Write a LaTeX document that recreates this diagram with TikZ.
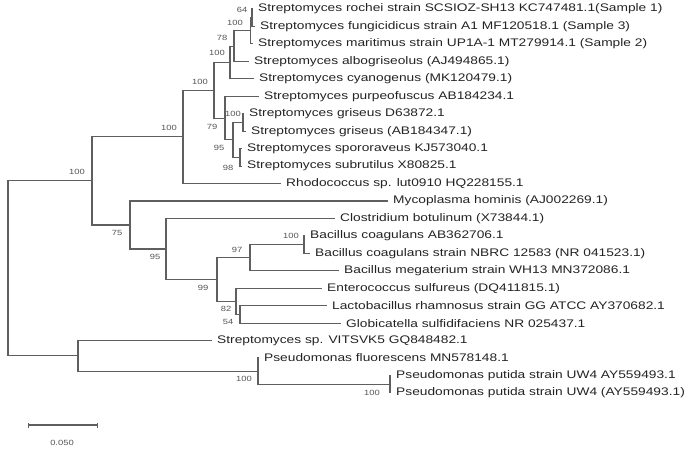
\documentclass[tikz,border=0pt]{standalone}
\usepackage{fontspec}
\usepackage{tikz}
\usetikzlibrary{arrows.meta}
\newfontfamily\treefont[FakeStretch=1.25]{Liberation Sans}
\definecolor{trLine}{RGB}{95,95,95}
\definecolor{trText}{RGB}{35,35,35}
\definecolor{trBoot}{RGB}{85,85,85}

\begin{document}
\begin{tikzpicture}[x=1pt, y=-1pt,
  branch/.style={draw=trLine, line width=1.1pt},
  leaf/.style={anchor=west, inner xsep=5pt, inner ysep=0pt, text=trText, font=\treefont\fontsize{11}{13}\selectfont},
  boot/.style={inner sep=0pt, text=trBoot, font=\treefont\fontsize{7.5}{9}\selectfont}]
  \useasboundingbox (0,0) rectangle (696,456);

  \coordinate (root) at (8,268.4);
  \coordinate (n92) at (92,180.9);
  \coordinate (ns) at (183,136.9);
  \coordinate (s) at (214,90.3);
  \coordinate (s1) at (230,62.5);
  \coordinate (s1a) at (234,46.1);
  \coordinate (s1b) at (250.5,30.8);
  \coordinate (s1c) at (252,17.8);
  \coordinate (s2) at (225,118.1);
  \coordinate (s3) at (233,139.9);
  \coordinate (g) at (243,122.45);
  \coordinate (p) at (240,157.35);
  \coordinate (f) at (130,225);
  \coordinate (c) at (166,248.95);
  \coordinate (b) at (217,279.5);
  \coordinate (bc) at (250,257.7);
  \coordinate (bcp) at (304,244.6);
  \coordinate (e) at (236,301.3);
  \coordinate (l) at (240,314.4);
  \coordinate (nx) at (78,355.85);
  \coordinate (psn) at (258,371.1);
  \coordinate (pu) at (390,384.2);

  \node[leaf] (rochei) at (253,9) {Streptomyces rochei strain SCSIOZ-SH13 KC747481.1(Sample 1)};
  \node[leaf] (fung) at (255,26.5) {Streptomyces fungicidicus strain A1 MF120518.1 (Sample 3)};
  \node[leaf] (marit) at (253,43.9) {Streptomyces maritimus strain UP1A-1 MT279914.1 (Sample 2)};
  \node[leaf] (albo) at (249,61.4) {Streptomyces albogriseolus (AJ494865.1)};
  \node[leaf] (cyano) at (254,78.8) {Streptomyces cyanogenus (MK120479.1)};
  \node[leaf] (purpeo) at (259,96.3) {Streptomyces purpeofuscus AB184234.1};
  \node[leaf] (grisd) at (244,113.7) {Streptomyces griseus D63872.1};
  \node[leaf] (grisab) at (246,131.2) {Streptomyces griseus (AB184347.1)};
  \node[leaf] (sporo) at (242,148.6) {Streptomyces spororaveus KJ573040.1};
  \node[leaf] (subru) at (242,166.1) {Streptomyces subrutilus X80825.1};
  \node[leaf] (rhodo) at (281,183.5) {Rhodococcus sp. lut0910 HQ228155.1};
  \node[leaf] (myco) at (388,201) {Mycoplasma hominis (AJ002269.1)};
  \node[leaf] (clost) at (335,218.4) {Clostridium botulinum (X73844.1)};
  \node[leaf] (bacab) at (305,235.9) {Bacillus coagulans AB362706.1};
  \node[leaf] (bacnb) at (310,253.3) {Bacillus coagulans strain NBRC 12583 (NR 041523.1)};
  \node[leaf] (bacmeg) at (339,270.8) {Bacillus megaterium strain WH13 MN372086.1};
  \node[leaf] (entero) at (322,288.2) {Enterococcus sulfureus (DQ411815.1)};
  \node[leaf] (lacto) at (327,305.7) {Lactobacillus rhamnosus strain GG ATCC AY370682.1};
  \node[leaf] (globi) at (341,323.1) {Globicatella sulfidifaciens NR 025437.1};
  \node[leaf] (strsp) at (212,340.6) {Streptomyces sp. VITSVK5 GQ848482.1};
  \node[leaf] (fluor) at (259,358) {Pseudomonas fluorescens MN578148.1};
  \node[leaf] (putA) at (391,375.5) {Pseudomonas putida strain UW4 AY559493.1};
  \node[leaf] (putB) at (391,392.9) {Pseudomonas putida strain UW4 (AY559493.1)};

  \draw[branch] (s1c) |- (rochei.west);
  \draw[branch] (s1c) |- (fung.west);
  \draw[branch] (s1b) |- (s1c);
  \draw[branch] (s1b) |- (marit.west);
  \draw[branch] (s1a) |- (s1b);
  \draw[branch] (s1a) |- (albo.west);
  \draw[branch] (s1) |- (s1a);
  \draw[branch] (s1) |- (cyano.west);
  \draw[branch] (g) |- (grisd.west);
  \draw[branch] (g) |- (grisab.west);
  \draw[branch] (p) |- (sporo.west);
  \draw[branch] (p) |- (subru.west);
  \draw[branch] (s3) |- (g);
  \draw[branch] (s3) |- (p);
  \draw[branch] (s2) |- (purpeo.west);
  \draw[branch] (s2) |- (s3);
  \draw[branch] (s) |- (s1);
  \draw[branch] (s) |- (s2);
  \draw[branch] (ns) |- (s);
  \draw[branch] (ns) |- (rhodo.west);
  \draw[branch] (bcp) |- (bacab.west);
  \draw[branch] (bcp) |- (bacnb.west);
  \draw[branch] (bc) |- (bcp);
  \draw[branch] (bc) |- (bacmeg.west);
  \draw[branch] (l) |- (lacto.west);
  \draw[branch] (l) |- (globi.west);
  \draw[branch] (e) |- (entero.west);
  \draw[branch] (e) |- (l);
  \draw[branch] (b) |- (bc);
  \draw[branch] (b) |- (e);
  \draw[branch] (c) |- (clost.west);
  \draw[branch] (c) |- (b);
  \draw[branch] (f) |- (myco.west);
  \draw[branch] (f) |- (c);
  \draw[branch] (n92) |- (ns);
  \draw[branch] (n92) |- (f);
  \draw[branch] (pu) |- (putA.west);
  \draw[branch] (pu) |- (putB.west);
  \draw[branch] (psn) |- (fluor.west);
  \draw[branch] (psn) |- (pu);
  \draw[branch] (nx) |- (strsp.west);
  \draw[branch] (nx) |- (psn);
  \draw[branch] (root) |- (n92);
  \draw[branch] (root) |- (nx);

  \node[boot] (b64) at (242,10) {64};
  \node[boot] (b100a) at (235,23) {100};
  \node[boot] (b78) at (222,38) {78};
  \node[boot] (b100b) at (217,53) {100};
  \node[boot] (b100c) at (200,82) {100};
  \node[boot] (b100d) at (169,128) {100};
  \node[boot] (b100e) at (233,114) {100};
  \node[boot] (b79) at (212,127) {79};
  \node[boot] (b95a) at (219,148) {95};
  \node[boot] (b98) at (228,168) {98};
  \node[boot] (b100f) at (77,172) {100};
  \node[boot] (b75) at (117,233) {75};
  \node[boot] (b95b) at (155,257) {95};
  \node[boot] (b99) at (203,288) {99};
  \node[boot] (b97) at (237,250) {97};
  \node[boot] (b100g) at (291,236) {100};
  \node[boot] (b82) at (226,309) {82};
  \node[boot] (b54) at (228,322) {54};
  \node[boot] (b100h) at (244,379) {100};
  \node[boot] (b100i) at (372,393) {100};

  \coordinate (barL) at (28,425);
  \coordinate (barR) at (98,425);
  \draw[branch, {Bar[width=5pt]}-{Bar[width=5pt]}] (barL) -- (barR);
  \node[boot] (barlab) at (62,443) {0.050};
\end{tikzpicture}
\end{document}
